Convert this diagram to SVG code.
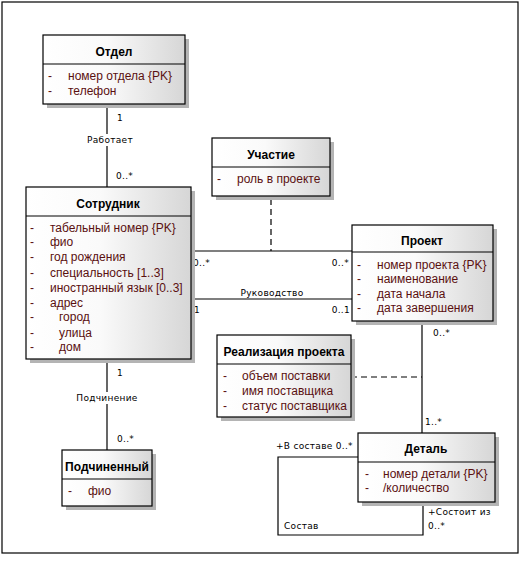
<svg xmlns="http://www.w3.org/2000/svg" width="520" height="561" viewBox="0 0 520 561">
<defs>
<linearGradient id="g" x1="0" y1="0" x2="1" y2="0">
<stop offset="0" stop-color="#ffffff"/>
<stop offset="0.45" stop-color="#fafafa"/>
<stop offset="1" stop-color="#d6d6d6"/>
</linearGradient>
<style>
.box{fill:url(#g);stroke:#000;stroke-width:1.2}
.sh{fill:#b4b4b4}
.div{stroke:#000;stroke-width:1}
.hd{font-family:"Liberation Sans",Arial,sans-serif;font-size:12px;font-weight:bold;fill:#000;text-anchor:middle}
.at{font-family:"Liberation Sans",Arial,sans-serif;font-size:12px;fill:#5a1010}
.ds{font-family:"Liberation Sans",Arial,sans-serif;font-size:12px;fill:#5a1010}
.lb{font-family:"DejaVu Sans","Liberation Sans",sans-serif;font-size:9px;fill:#000;letter-spacing:0.3px}
.ln{stroke:#000;stroke-width:1.2;fill:none}
.dl{stroke:#000;stroke-width:1.2;fill:none;stroke-dasharray:6 4}
</style>
</defs>
<rect x="0" y="0" width="520" height="561" fill="#fff"/>
<rect x="2" y="2" width="516" height="551" fill="none" stroke="#000" stroke-width="1.2"/>

<g id="connectors">
<line class="ln" x1="107" y1="104" x2="107" y2="187"/>
<rect x="85" y="134" width="50" height="12" fill="#fff"/>
<line class="ln" x1="191" y1="251" x2="352" y2="251"/>
<line class="dl" x1="271" y1="199" x2="271" y2="251"/>
<line class="ln" x1="191" y1="299" x2="352" y2="299"/>
<line class="ln" x1="422" y1="321" x2="422" y2="433"/>
<line class="dl" x1="351" y1="377" x2="422" y2="377"/>
<line class="ln" x1="107" y1="359" x2="107" y2="450"/>
<rect x="75" y="392" width="64" height="12" fill="#fff"/>
<polyline class="ln" points="358,457 278,457 278,535 423,535 423,502"/>
<text class="lb" x="117" y="121">1</text>
<text class="lb" x="110" y="143" text-anchor="middle">Работает</text>
<text class="lb" x="116" y="179">0..*</text>
<text class="lb" x="193" y="266">0..*</text>
<text class="lb" x="349" y="266" text-anchor="end">0..*</text>
<text class="lb" x="272" y="296" text-anchor="middle">Руководство</text>
<text class="lb" x="194" y="313">1</text>
<text class="lb" x="350" y="313" text-anchor="end">0..1</text>
<text class="lb" x="433" y="336">0..*</text>
<text class="lb" x="425" y="425">1..*</text>
<text class="lb" x="276" y="449">+В составе 0..*</text>
<text class="lb" x="284" y="529">Состав</text>
<text class="lb" x="428" y="515">+Состоит из</text>
<text class="lb" x="428" y="529">0..*</text>
<text class="lb" x="117" y="376">1</text>
<text class="lb" x="107" y="401" text-anchor="middle">Подчинение</text>
<text class="lb" x="117" y="442">0..*</text>
</g>

<g id="otdel">
<rect class="sh" x="47" y="39" width="142" height="69"/>
<rect class="box" x="43" y="35" width="142" height="69"/>
<line class="div" x1="43" y1="64" x2="185" y2="64"/>
<text class="hd" x="114" y="56">Отдел</text>
<text class="ds" x="48" y="80">-</text><text class="at" x="68" y="80">номер отдела {PK}</text>
<text class="ds" x="48" y="95">-</text><text class="at" x="68" y="95">телефон</text>
</g>

<g id="sotrudnik">
<rect class="sh" x="30" y="191" width="165" height="172"/>
<rect class="box" x="26" y="187" width="165" height="172"/>
<line class="div" x1="26" y1="216" x2="191" y2="216"/>
<text class="hd" x="108" y="208">Сотрудник</text>
<text class="ds" x="30" y="232">-</text><text class="at" x="50" y="232">табельный номер {PK}</text>
<text class="ds" x="30" y="246">-</text><text class="at" x="50" y="246">фио</text>
<text class="ds" x="30" y="261">-</text><text class="at" x="50" y="261">год рождения</text>
<text class="ds" x="30" y="277">-</text><text class="at" x="50" y="277">специальность [1..3]</text>
<text class="ds" x="30" y="292">-</text><text class="at" x="50" y="292">иностранный язык [0..3]</text>
<text class="ds" x="30" y="307">-</text><text class="at" x="50" y="307">адрес</text>
<text class="ds" x="30" y="321">-</text><text class="at" x="59" y="321">город</text>
<text class="ds" x="30" y="337">-</text><text class="at" x="59" y="337">улица</text>
<text class="ds" x="30" y="351">-</text><text class="at" x="59" y="351">дом</text>
</g>

<g id="uchastie">
<rect class="sh" x="216" y="142" width="118" height="58"/>
<rect class="box" x="212" y="138" width="118" height="58"/>
<line class="div" x1="212" y1="167" x2="330" y2="167"/>
<text class="hd" x="271" y="159">Участие</text>
<text class="ds" x="217" y="183">-</text><text class="at" x="237" y="183">роль в проекте</text>
</g>

<g id="proekt">
<rect class="sh" x="356" y="229" width="141" height="96"/>
<rect class="box" x="352" y="225" width="141" height="96"/>
<line class="div" x1="352" y1="252" x2="493" y2="252"/>
<text class="hd" x="422" y="245">Проект</text>
<text class="ds" x="357" y="269">-</text><text class="at" x="377" y="269">номер проекта {PK}</text>
<text class="ds" x="357" y="283">-</text><text class="at" x="377" y="283">наименование</text>
<text class="ds" x="357" y="298">-</text><text class="at" x="377" y="298">дата начала</text>
<text class="ds" x="357" y="312">-</text><text class="at" x="377" y="312">дата завершения</text>
</g>

<g id="realizaciya">
<rect class="sh" x="221" y="339" width="134" height="82"/>
<rect class="box" x="217" y="335" width="134" height="82"/>
<line class="div" x1="217" y1="364" x2="351" y2="364"/>
<text class="hd" x="284" y="356">Реализация проекта</text>
<text class="ds" x="223" y="380">-</text><text class="at" x="242" y="380">объем поставки</text>
<text class="ds" x="223" y="395">-</text><text class="at" x="242" y="395">имя поставщика</text>
<text class="ds" x="223" y="410">-</text><text class="at" x="242" y="410">статус поставщика</text>
</g>

<g id="detal">
<rect class="sh" x="362" y="437" width="137" height="69"/>
<rect class="box" x="358" y="433" width="137" height="69"/>
<line class="div" x1="358" y1="462" x2="495" y2="462"/>
<text class="hd" x="426" y="453">Деталь</text>
<text class="ds" x="365" y="478">-</text><text class="at" x="383" y="478">номер детали {PK}</text>
<text class="ds" x="365" y="492">-</text><text class="at" x="383" y="492">/количество</text>
</g>

<g id="podchinenniy">
<rect class="sh" x="66" y="454" width="90" height="56"/>
<rect class="box" x="62" y="450" width="90" height="56"/>
<line class="div" x1="62" y1="479" x2="152" y2="479"/>
<text class="hd" x="107" y="471">Подчиненный</text>
<text class="ds" x="68" y="495">-</text><text class="at" x="88" y="495">фио</text>
</g>
</svg>
